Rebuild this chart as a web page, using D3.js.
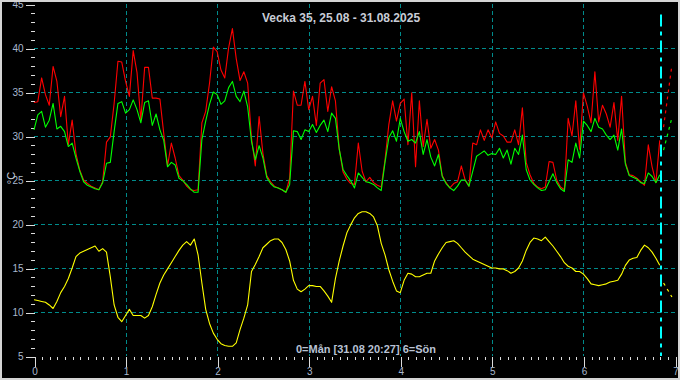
<!DOCTYPE html>
<html><head><meta charset="utf-8">
<script src="https://cdn.jsdelivr.net/npm/d3@7"></script>
<style>html,body{margin:0;padding:0;background:#000;overflow:hidden}</style>
</head><body><svg id="c" width="680" height="380"></svg>
<script>
// ---- data (hourly samples, Monday 00:00 = hour 0) ----
const red = [
 33.8,33.9,36.6,34.7,33.5,37.9,36.2,32.2,34.5,29,
 31.8,28,26.1,25,24.6,24.3,24.1,23.9,24.8,29.3,
 29.9,33.7,38.5,38.4,36.2,34.5,39.7,37.2,31.8,37.8,
 37.8,34.3,34.3,34.2,30.3,26.6,29.2,27.5,25.5,25,
 24.3,23.9,23.8,23.9,31.5,32.8,36,40.1,39.6,37.5,
 36.6,40,42.2,38.8,36.3,37.3,36,29.8,26.6,32.2,
 28,25.5,24.8,24.3,24.1,23.9,23.6,25.2,35.1,33.5,
 33.5,36.2,33,34.5,31.2,36,36.4,32.8,35.6,34,
 28.5,25.9,25.1,24.6,24.5,29.2,26,24.8,25.3,24.7,
 24.4,24.2,27.3,31.3,34,31.7,33.7,34.2,29,34.9,
 26.5,34,28.8,31.9,28.6,29.6,28.4,25.5,24.7,24.1,
 24.6,24.8,26.6,25,24.3,29.2,29,30.7,29.5,30.7,
 29.8,31.6,30.3,30,29.3,29.3,30.7,29,33.2,27,
 25.6,24.6,24.2,24,24.2,27.1,27,25,24.2,23.9,
 32,30,34,28.5,34.9,33.4,31.5,37.3,31.6,33.5,
 32.5,31,33.8,29.5,34.5,27,25.6,25.5,25.2,24.8,
 24.4,29,26.5,24.7,29.5];
const green = [
 30.7,32.4,32.8,31,31.8,33.7,30.8,31.1,30.5,28.8,
 29.2,27.5,26,24.8,24.4,24.2,24,23.9,24.7,26.9,
 27,30.5,33.7,33.9,32.6,33,34.1,33,31.5,33.8,
 34,31.2,32.5,30.7,29.5,26.5,27,26.7,25.2,24.9,
 24.5,24,23.6,23.6,29.6,31.7,33.6,35,34.7,33.6,
 34,35.5,36.2,34.5,33.9,35.1,33.3,29.4,27.3,28.9,
 27.5,25.3,24.6,24.2,24.1,23.9,23.6,24.5,30.6,30.5,
 29.6,30.7,30.5,31.3,30.4,31.2,31.8,30.5,32.6,32,
 28.5,26.2,25.5,24.9,24.1,25.8,25.3,24.8,24.7,24.5,
 24.1,23.8,27,29.8,30.6,29.4,32,30.5,29.4,29.6,
 29.2,30.5,27.9,29.6,27.6,26.6,27.9,25.4,24.6,24.1,
 23.8,24.3,25,25,24.3,26,27.7,28,28.3,27.8,
 28,27.9,28.6,27.5,28.4,26.8,28.6,27.9,30.1,26.2,
 25,24.5,24.1,23.8,23.9,24.8,25.7,24.7,24,23.7,
 27.3,27,29.2,27.5,31.7,31.2,30.5,32,31,30.8,
 30.1,29.6,30.1,28.4,30.8,26.8,25.5,25.3,25.1,24.7,
 24.6,25.8,25.4,24.7,25.6];
const yellow = [
 11.4,11.3,11.2,11.1,10.8,10.4,11.2,12.2,12.9,13.8,
 15,16.3,16.7,16.9,17.1,17.3,17.5,16.9,17.2,16.8,
 14,10.8,9.4,8.9,9.6,10.3,9.6,9.6,9.6,9.3,
 9.6,10.6,12,13.3,14.2,14.9,15.6,16.3,17,17.6,
 18,17.6,18.3,16.5,13.3,10.3,8.7,7.6,6.9,6.4,
 6.2,6.1,6.1,6.5,8,9.3,10.8,14.6,15.4,16.3,
 17.3,17.7,18.1,18.3,18.3,17.9,17.1,15.8,13.6,12.6,
 12.3,12.6,13,13,12.9,12.9,12.4,11.8,11.1,13.8,
 15.8,17.5,19,19.9,20.7,21.2,21.4,21.4,21.2,20.8,
 19.8,17.8,16.5,14.8,13.5,12.4,12.2,13.6,14.4,14.3,
 14,14,14.2,14.4,14.4,15.8,16.6,17.3,17.9,18,
 18.1,17.8,17.3,16.8,16.4,16,15.8,15.6,15.4,15.2,
 15,15,14.9,14.9,14.7,14.4,14.6,15,15.8,17,
 17.9,18.4,18.3,18.1,18.5,18,17.5,16.9,16.3,15.6,
 15.2,15,14.6,14.6,14.3,13.8,13.2,13.1,13,13.1,
 13.2,13.4,13.5,13.6,14.3,15.3,15.9,16.1,16.2,17,
 17.6,17.3,16.8,16.1,15.3];
// trailing dashed segments after the "now" marker
const tailHours = [165, 167.2];
const tailRed = [31, 38.1];
const tailGreen = [28.4, 32.1];
const tailYellow = [13.3, 11.7];
const nowDay = 6 + (20 + 27/60) / 24;
const xTicks = [0,1,2,3,4,5,6,7];
const yTicks = [5,10,15,20,25,30,35,40,45];
const gridY = [10,15,20,25,30,35,40];
const gridX = [1,2,3,4,5,6];
const title = "Vecka 35, 25.08 - 31.08.2025";
const footer = "0=Mån [31.08 20:27] 6=Sön";
const yLabel = "°C";

// ---- drawing ----
const W = 680, H = 380;
const svg = d3.select('#c');
svg.append('rect').attr('width', W).attr('height', H).attr('fill', '#000');
const x = d3.scaleLinear().domain([0, 7]).range([34, 675]);
const y = d3.scaleLinear().domain([5, 45]).range([356, 4]);
const gridCol = '#008b8b';
const labCol = '#a9b8cf';
const font = "'Liberation Sans', Arial, sans-serif";

const grid = svg.append('g').attr('shape-rendering', 'crispEdges');
grid.selectAll('line.h').data(gridY).join('line')
  .attr('x1', x(0)).attr('x2', x(7))
  .attr('y1', d => Math.round(y(d)) + 0.5).attr('y2', d => Math.round(y(d)) + 0.5)
  .attr('stroke', gridCol).attr('stroke-dasharray', '4,3');
grid.selectAll('line.v').data(gridX).join('line')
  .attr('x1', d => Math.round(x(d)) + 0.5).attr('x2', d => Math.round(x(d)) + 0.5)
  .attr('y1', y(45)).attr('y2', y(5))
  .attr('stroke', gridCol).attr('stroke-dasharray', '4,3');

function styleAxis(g) {
  g.select('.domain').remove();
  g.selectAll('line').attr('stroke', '#dcdcdc').attr('shape-rendering', 'crispEdges');
  g.selectAll('text').attr('fill', labCol).style('font', "10px " + font);
}
// y axis
svg.append('g').attr('transform', 'translate(34.5,0.5)')
  .call(d3.axisLeft(y).tickValues(d3.range(5, 46, 1)).tickSize(4).tickFormat(''))
  .call(styleAxis);
svg.append('g').attr('transform', 'translate(34.5,0.5)')
  .call(d3.axisLeft(y).tickValues(yTicks).tickSize(9).tickPadding(2).tickFormat(d3.format('d')))
  .call(styleAxis);
// x axis
svg.append('g').attr('transform', 'translate(0.5,' + (y(5) + 0.5) + ')')
  .call(d3.axisBottom(x).tickValues(d3.range(0, 7 * 12 + 1).map(i => i / 12)).tickSize(3.5).tickFormat(''))
  .call(styleAxis);
svg.append('g').attr('transform', 'translate(0.5,' + (y(5) + 0.5) + ')')
  .call(d3.axisBottom(x).tickValues(xTicks).tickSize(10).tickPadding(1).tickFormat(d3.format('d')))
  .call(styleAxis);

// series
const line = d3.line().x((d, i) => x(i / 24)).y(d => y(d));
const seriesDefs = [[yellow, '#ffff00'], [red, '#ff0000'], [green, '#00ff00']];
seriesDefs.forEach(([data, col]) => {
  svg.append('path').datum(data).attr('d', line)
    .attr('fill', 'none').attr('stroke', col).attr('stroke-width', 1.1)
    .attr('stroke-linejoin', 'round');
});
const tailLine = d3.line().x((d, i) => x(tailHours[i] / 24)).y(d => y(d));
[[tailRed, '#ff0000'], [tailGreen, '#00ff00'], [tailYellow, '#ffff00']].forEach(([data, col]) => {
  svg.append('path').datum(data).attr('d', tailLine)
    .attr('fill', 'none').attr('stroke', col).attr('stroke-width', 1.2)
    .attr('stroke-dasharray', '3,4');
});

// now marker
svg.append('line')
  .attr('x1', Math.round(x(nowDay))).attr('x2', Math.round(x(nowDay)))
  .attr('y1', y(43.8)).attr('y2', y(5))
  .attr('stroke', '#00ffff').attr('stroke-width', 2)
  .attr('stroke-dasharray', '12,5,4,5');

// texts
svg.append('text').attr('x', 341).attr('y', 22).attr('text-anchor', 'middle')
  .attr('fill', '#c8ccd6').style('font', "bold 12px " + font).text(title);
svg.append('text').attr('x', 366).attr('y', 353).attr('text-anchor', 'middle')
  .attr('fill', '#b8c2d4').style('font', "bold 11px " + font).text(footer);
svg.append('text').attr('transform', 'translate(15,178) rotate(-90)').attr('text-anchor', 'middle')
  .attr('fill', '#c0c8d8').style('font', "11px " + font).text(yLabel);

// frame
svg.append('rect').attr('x', 1).attr('y', 1).attr('width', W - 2).attr('height', H - 2)
  .attr('fill', 'none').attr('stroke', '#d4d4d4').attr('stroke-width', 2);
</script></body></html>
